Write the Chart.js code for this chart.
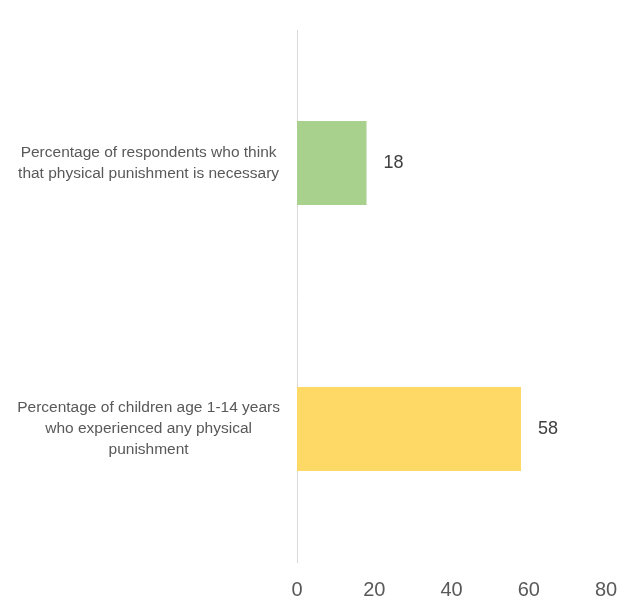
<!DOCTYPE html>
<html>
<head>
<meta charset="utf-8">
<script src="https://cdn.jsdelivr.net/npm/chart.js@4/dist/chart.umd.min.js"></script>
<style>
  html, body { margin: 0; padding: 0; background: #ffffff; }
  #wrap { width: 630px; height: 603px; position: relative; }
</style>
</head>
<body>
<div id="wrap"><canvas id="c"></canvas></div>
<script>
const categories = [
  ["Percentage of respondents who think", "that physical punishment is necessary"],
  ["Percentage of children age 1-14 years", "who experienced any physical", "punishment"]
];
const values = [18, 58];
const barColors = ["#A9D18E", "#FFD966"];
const xTicks = [0, 20, 40, 60, 80];

const FONT = "'Liberation Sans', Arial, sans-serif";

const valueLabels = {
  id: 'valueLabels',
  afterDatasetsDraw(chart) {
    const ctx = chart.ctx;
    const meta = chart.getDatasetMeta(0);
    ctx.save();
    ctx.font = "18px " + FONT;
    ctx.fillStyle = "#404040";
    ctx.textAlign = "left";
    ctx.textBaseline = "middle";
    meta.data.forEach((bar, i) => {
      ctx.fillText(String(values[i]), bar.x + 17, bar.y);
    });
    ctx.restore();
  }
};

new Chart(document.getElementById('c'), {
  type: 'bar',
  data: {
    labels: categories,
    datasets: [{
      data: values,
      backgroundColor: barColors,
      borderWidth: 0,
      categoryPercentage: 1.0,
      barPercentage: 0.316
    }]
  },
  options: {
    indexAxis: 'y',
    responsive: true,
    maintainAspectRatio: false,
    animation: false,
    layout: { padding: { top: 30, right: 24, bottom: 0, left: 0 } },
    plugins: { legend: { display: false }, tooltip: { enabled: false } },
    scales: {
      x: {
        min: 0, max: 80,
        afterBuildTicks: (s) => { s.ticks = xTicks.map(v => ({ value: v })); },
        grid: { display: false, drawTicks: false },
        border: { display: false },
        ticks: { color: "#595959", font: { family: FONT, size: 20 }, padding: 16 },
        afterFit: (s) => { s.height = 41; s.paddingLeft = 0; s.paddingRight = 0; s.paddingTop = 0; s.paddingBottom = 0; }
      },
      y: {
        afterFit: (s) => { s.width = 297; s.paddingTop = 0; s.paddingBottom = 0; },
        grid: { display: false, drawTicks: false },
        border: { display: true, color: "#D9D9D9", width: 1 },
        ticks: {
          color: "#595959",
          font: { family: FONT, size: 15.5, lineHeight: 1.35 },
          crossAlign: 'center',
          padding: 17
        }
      }
    }
  },
  plugins: [valueLabels]
});
</script>
</body>
</html>
